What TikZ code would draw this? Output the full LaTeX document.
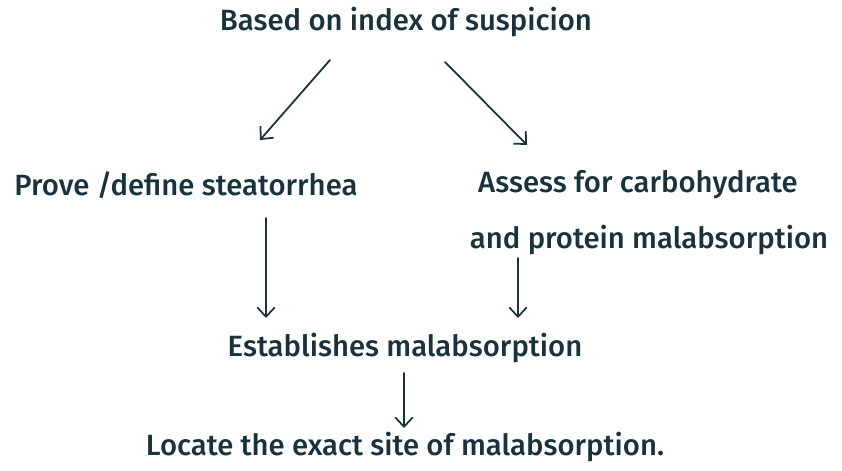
\documentclass[tikz,border=0pt]{standalone}
\usepackage{fontspec}
\setmainfont{Fira Sans}[UprightFont=* Medium]
\usepackage{tikz}
\usetikzlibrary{arrows.meta,positioning}
\definecolor{ink}{HTML}{18323F}
\tikzset{%
    note/.style={%
        text=ink, inner sep=0pt, font=\fontsize{25}{30}\selectfont
    },
    arr/.style={%
        draw=ink, line width=1.5pt, line cap=round,
        -{Straight Barb[length=8pt,width=15pt,line width=1.5pt]}
    }
}

\begin{document}
\begin{tikzpicture}[x=0.03cm, y=-0.03cm]
    \useasboundingbox[fill=white] (0,0) rectangle (842,470);

    \node[note] (top) at (406,22) {Based on index of suspicion};
    \node[note] (prove) at (186,185) {Prove /define steatorrhea};
    \node[note] (assess) at (638,185) {Assess for carbohydrate};
    \node[note] (protein) at (649,240) {and protein malabsorption};
    \node[note] (est) at (405,348) {Establishes malabsorption};
    \node[note] (locate) at (405,447) {Locate the exact site of malabsorption.};

    \draw[arr] ([shift={(-76,38)}]top.center) -- ([shift={(74,-45)}]prove.center);
    \draw[arr] ([shift={(39,40)}]top.center) -- ([shift={(-111,-40)}]assess.center);
    \draw[arr] ([shift={(80,33)}]prove.center) -- ([shift={(-139,-30)}]est.center);
    \draw[arr] ([shift={(-131,18)}]protein.center) -- ([shift={(113,-30)}]est.center);
    \draw[arr] ([shift={(-1,25)}]est.center) -- ([shift={(-1,-19)}]locate.center);
\end{tikzpicture}
\end{document}
